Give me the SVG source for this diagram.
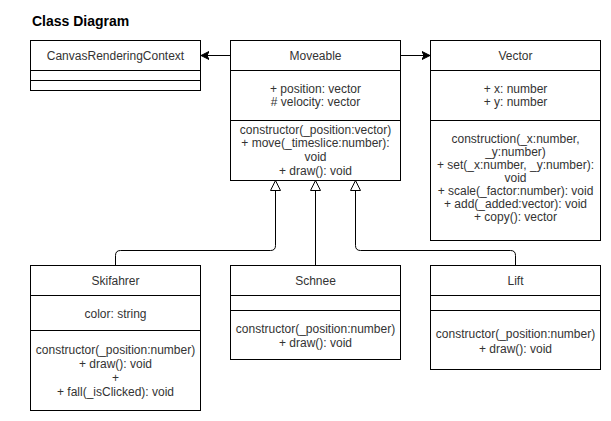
<svg xmlns="http://www.w3.org/2000/svg" width="611" height="421" viewBox="0 0 611 421">
<style>
.box{fill:#fff;stroke:#000;stroke-width:1}
.ln{stroke:#000;stroke-width:1;fill:none}
.t{font-family:"Liberation Sans",Arial,sans-serif;font-size:12px;fill:#333;text-anchor:middle}
.title{font-family:"Liberation Sans",Arial,sans-serif;font-size:14px;font-weight:bold;fill:#000}
.tri{fill:#fff;stroke:#000;stroke-width:1}
</style>
<defs>
<marker id="arr" markerWidth="10" markerHeight="10" refX="8" refY="5" orient="auto" markerUnits="userSpaceOnUse">
<path d="M8,5 L0,1 L2,5 L0,9 Z" fill="#000" stroke="#000" stroke-width="1"/>
</marker>
</defs>
<rect width="611" height="421" fill="#fff"/>
<text class="title" x="32" y="26">Class Diagram</text>

<g id="connectors">
<line class="ln" x1="230.5" y1="55.5" x2="201" y2="55.5" marker-end="url(#arr)"/>
<line class="ln" x1="400.5" y1="55.5" x2="430" y2="55.5" marker-end="url(#arr)"/>
<path class="ln" d="M115.5,265 V255.5 Q115.5,250.5 120.5,250.5 H270.5 Q275.5,250.5 275.5,245.5 V190"/>
<polygon class="tri" points="275.5,180.5 270.5,190.5 280.5,190.5"/>
<path class="ln" d="M315.5,265 V190"/>
<polygon class="tri" points="315.5,180.5 310.5,190.5 320.5,190.5"/>
<path class="ln" d="M515.5,265 V255.5 Q515.5,250.5 510.5,250.5 H360.5 Q355.5,250.5 355.5,245.5 V190"/>
<polygon class="tri" points="355.5,180.5 350.5,190.5 360.5,190.5"/>
</g>

<g id="CanvasRenderingContext">
<rect class="box" x="30.5" y="40.5" width="170" height="50"/>
<line class="ln" x1="30.5" y1="70.5" x2="200.5" y2="70.5"/>
<line class="ln" x1="30.5" y1="80.5" x2="200.5" y2="80.5"/>
<text class="t" x="115.5" y="59.5">CanvasRenderingContext</text>
</g>

<g id="Moveable">
<rect class="box" x="230.5" y="40.5" width="170" height="140"/>
<line class="ln" x1="230.5" y1="70.5" x2="400.5" y2="70.5"/>
<line class="ln" x1="230.5" y1="120.5" x2="400.5" y2="120.5"/>
<text class="t" x="315.5" y="59.5">Moveable</text>
<text class="t" x="315.5" y="92.5">+ position: vector</text>
<text class="t" x="315.5" y="106">#  velocity: vector</text>
<text class="t" x="315.5" y="133.5">constructor(_position:vector)</text>
<text class="t" x="315.5" y="147">+ move(_timeslice:number):</text>
<text class="t" x="315.5" y="161">void</text>
<text class="t" x="315.5" y="175">+ draw(): void</text>
</g>

<g id="Vector">
<rect class="box" x="430.5" y="40.5" width="170" height="200"/>
<line class="ln" x1="430.5" y1="70.5" x2="600.5" y2="70.5"/>
<line class="ln" x1="430.5" y1="120.5" x2="600.5" y2="120.5"/>
<text class="t" x="515.5" y="59.5">Vector</text>
<text class="t" x="515.5" y="93">+ x: number</text>
<text class="t" x="515.5" y="106">+ y: number</text>
<text class="t" x="515.5" y="143">construction(_x:number,</text>
<text class="t" x="515.5" y="156">_y:number)</text>
<text class="t" x="515.5" y="169">+ set(_x:number, _y:number):</text>
<text class="t" x="515.5" y="182">void</text>
<text class="t" x="515.5" y="195">+ scale(_factor:number): void</text>
<text class="t" x="515.5" y="208">+ add(_added:vector): void</text>
<text class="t" x="515.5" y="221">+ copy(): vector</text>
</g>

<g id="Skifahrer">
<rect class="box" x="30.5" y="265.5" width="170" height="145"/>
<line class="ln" x1="30.5" y1="295.5" x2="200.5" y2="295.5"/>
<line class="ln" x1="30.5" y1="330.5" x2="200.5" y2="330.5"/>
<text class="t" x="115.5" y="285">Skifahrer</text>
<text class="t" x="115.5" y="317.5">color: string</text>
<text class="t" x="115.5" y="353.5">constructor(_position:number)</text>
<text class="t" x="115.5" y="367.5">+ draw(): void</text>
<text class="t" x="115.5" y="381.5">+</text>
<text class="t" x="115.5" y="395.5">+ fall(_isClicked): void</text>
</g>

<g id="Schnee">
<rect class="box" x="230.5" y="265.5" width="170" height="94"/>
<line class="ln" x1="230.5" y1="295.5" x2="400.5" y2="295.5"/>
<line class="ln" x1="230.5" y1="310.5" x2="400.5" y2="310.5"/>
<text class="t" x="315.5" y="285">Schnee</text>
<text class="t" x="315.5" y="333">constructor(_position:number)</text>
<text class="t" x="315.5" y="346.5">+ draw(): void</text>
</g>

<g id="Lift">
<rect class="box" x="430.5" y="265.5" width="170" height="104"/>
<line class="ln" x1="430.5" y1="295.5" x2="600.5" y2="295.5"/>
<line class="ln" x1="430.5" y1="310.5" x2="600.5" y2="310.5"/>
<text class="t" x="515.5" y="285">Lift</text>
<text class="t" x="515.5" y="338">constructor(_position:number)</text>
<text class="t" x="515.5" y="353">+ draw(): void</text>
</g>
</svg>
